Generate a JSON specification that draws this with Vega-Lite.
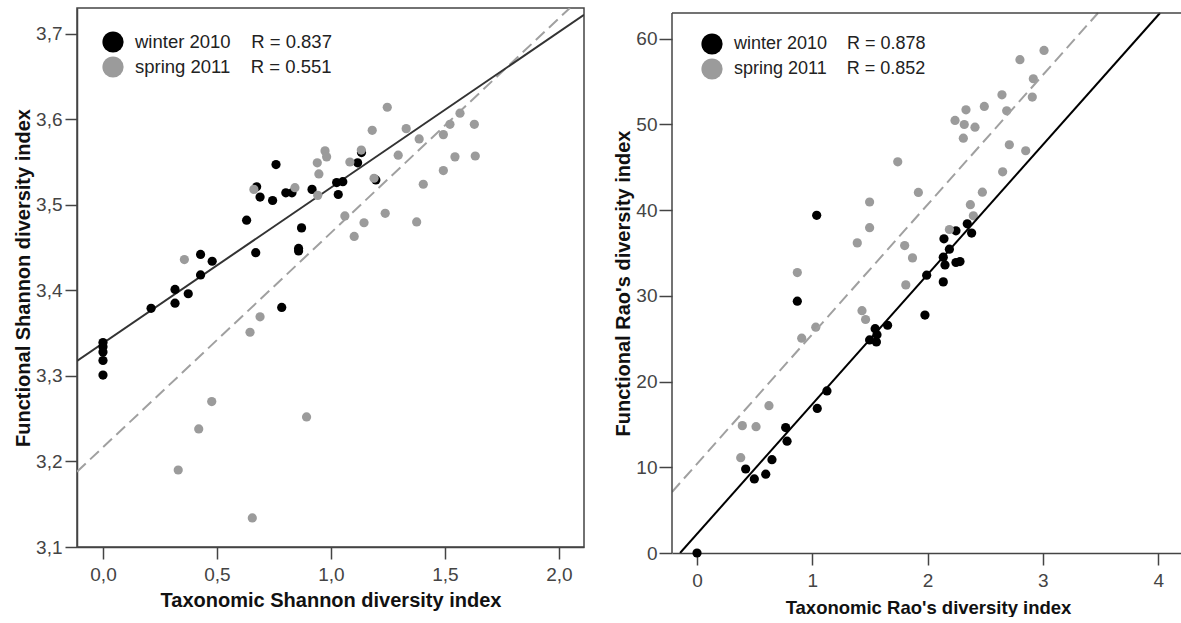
{
  "$schema": "https://vega.github.io/schema/vega-lite/v6.json",
  "background": "white",
  "padding": {"left": 12, "top": 7, "right": 0, "bottom": 0},
  "spacing": 28,
  "resolve": {"scale": {"color": "independent"}, "legend": {"color": "independent"}},
  "config": {
    "view": {"stroke": "#444444", "strokeWidth": 1.5},
    "axis": {
      "grid": false,
      "domainColor": "#444444", "domainWidth": 1.5,
      "tickColor": "#444444", "tickWidth": 1.5, "tickSize": 12,
      "labelFont": "Liberation Sans", "labelFontSize": 19, "labelColor": "#444444", "labelPadding": 4,
      "titleFont": "Liberation Sans", "titleFontSize": 20, "titleFontWeight": "bold", "titleColor": "#111111", "titlePadding": 6
    },
    "legend": {
      "title": null, "symbolType": "circle", "symbolSize": 450, "symbolStrokeWidth": 0, "symbolOpacity": 1,
      "labelFont": "Liberation Sans", "labelFontSize": 18.5, "labelColor": "#222222", "labelLimit": 400,
      "labelOffset": 11, "rowPadding": 3, "padding": 0, "orient": "none"
    }
  },
  "datasets": {
    "shannon": [
      {"season": "winter 2010", "tax": 0, "fun": 3.339},
      {"season": "winter 2010", "tax": 0, "fun": 3.334},
      {"season": "winter 2010", "tax": 0, "fun": 3.328},
      {"season": "winter 2010", "tax": 0, "fun": 3.318},
      {"season": "winter 2010", "tax": 0, "fun": 3.301},
      {"season": "winter 2010", "tax": 0.211, "fun": 3.379},
      {"season": "winter 2010", "tax": 0.316, "fun": 3.401},
      {"season": "winter 2010", "tax": 0.316, "fun": 3.385},
      {"season": "winter 2010", "tax": 0.374, "fun": 3.396},
      {"season": "winter 2010", "tax": 0.428, "fun": 3.442},
      {"season": "winter 2010", "tax": 0.479, "fun": 3.434},
      {"season": "winter 2010", "tax": 0.428, "fun": 3.418},
      {"season": "winter 2010", "tax": 0.630, "fun": 3.482},
      {"season": "winter 2010", "tax": 0.670, "fun": 3.444},
      {"season": "winter 2010", "tax": 0.674, "fun": 3.521},
      {"season": "winter 2010", "tax": 0.689, "fun": 3.509},
      {"season": "winter 2010", "tax": 0.759, "fun": 3.547},
      {"season": "winter 2010", "tax": 0.744, "fun": 3.505},
      {"season": "winter 2010", "tax": 0.802, "fun": 3.514},
      {"season": "winter 2010", "tax": 0.829, "fun": 3.514},
      {"season": "winter 2010", "tax": 0.917, "fun": 3.518},
      {"season": "winter 2010", "tax": 1.025, "fun": 3.526},
      {"season": "winter 2010", "tax": 1.052, "fun": 3.527},
      {"season": "winter 2010", "tax": 1.032, "fun": 3.512},
      {"season": "winter 2010", "tax": 1.117, "fun": 3.549},
      {"season": "winter 2010", "tax": 1.134, "fun": 3.561},
      {"season": "winter 2010", "tax": 1.197, "fun": 3.529},
      {"season": "winter 2010", "tax": 0.871, "fun": 3.473},
      {"season": "winter 2010", "tax": 0.858, "fun": 3.449},
      {"season": "winter 2010", "tax": 0.858, "fun": 3.446},
      {"season": "winter 2010", "tax": 0.784, "fun": 3.380},
      {"season": "spring 2011", "tax": 0.357, "fun": 3.436},
      {"season": "spring 2011", "tax": 0.330, "fun": 3.190},
      {"season": "spring 2011", "tax": 0.420, "fun": 3.238},
      {"season": "spring 2011", "tax": 0.477, "fun": 3.270},
      {"season": "spring 2011", "tax": 0.655, "fun": 3.134},
      {"season": "spring 2011", "tax": 0.645, "fun": 3.351},
      {"season": "spring 2011", "tax": 0.689, "fun": 3.369},
      {"season": "spring 2011", "tax": 0.662, "fun": 3.518},
      {"season": "spring 2011", "tax": 0.842, "fun": 3.520},
      {"season": "spring 2011", "tax": 0.893, "fun": 3.252},
      {"season": "spring 2011", "tax": 0.940, "fun": 3.549},
      {"season": "spring 2011", "tax": 0.947, "fun": 3.536},
      {"season": "spring 2011", "tax": 0.942, "fun": 3.511},
      {"season": "spring 2011", "tax": 0.974, "fun": 3.563},
      {"season": "spring 2011", "tax": 0.981, "fun": 3.556},
      {"season": "spring 2011", "tax": 1.061, "fun": 3.487},
      {"season": "spring 2011", "tax": 1.083, "fun": 3.550},
      {"season": "spring 2011", "tax": 1.102, "fun": 3.463},
      {"season": "spring 2011", "tax": 1.133, "fun": 3.564},
      {"season": "spring 2011", "tax": 1.145, "fun": 3.479},
      {"season": "spring 2011", "tax": 1.181, "fun": 3.587},
      {"season": "spring 2011", "tax": 1.189, "fun": 3.531},
      {"season": "spring 2011", "tax": 1.238, "fun": 3.490},
      {"season": "spring 2011", "tax": 1.247, "fun": 3.614},
      {"season": "spring 2011", "tax": 1.295, "fun": 3.558},
      {"season": "spring 2011", "tax": 1.330, "fun": 3.589},
      {"season": "spring 2011", "tax": 1.376, "fun": 3.480},
      {"season": "spring 2011", "tax": 1.387, "fun": 3.577},
      {"season": "spring 2011", "tax": 1.405, "fun": 3.524},
      {"season": "spring 2011", "tax": 1.493, "fun": 3.582},
      {"season": "spring 2011", "tax": 1.493, "fun": 3.540},
      {"season": "spring 2011", "tax": 1.522, "fun": 3.594},
      {"season": "spring 2011", "tax": 1.544, "fun": 3.556},
      {"season": "spring 2011", "tax": 1.566, "fun": 3.607},
      {"season": "spring 2011", "tax": 1.629, "fun": 3.594},
      {"season": "spring 2011", "tax": 1.633, "fun": 3.557}
    ],
    "shannonFit": [
      {"season": "winter 2010", "tax": -0.114, "fun": 3.3175},
      {"season": "winter 2010", "tax": 2.11, "fun": 3.722},
      {"season": "spring 2011", "tax": -0.114, "fun": 3.188},
      {"season": "spring 2011", "tax": 2.048, "fun": 3.73}
    ],
    "rao": [
      {"season": "winter 2010", "tax": 0, "fun": 0},
      {"season": "winter 2010", "tax": 0.422, "fun": 9.80},
      {"season": "winter 2010", "tax": 0.497, "fun": 8.64},
      {"season": "winter 2010", "tax": 0.596, "fun": 9.19},
      {"season": "winter 2010", "tax": 0.650, "fun": 10.89},
      {"season": "winter 2010", "tax": 0.769, "fun": 14.63},
      {"season": "winter 2010", "tax": 0.781, "fun": 13.04},
      {"season": "winter 2010", "tax": 0.870, "fun": 29.38},
      {"season": "winter 2010", "tax": 1.038, "fun": 39.40},
      {"season": "winter 2010", "tax": 1.043, "fun": 16.87},
      {"season": "winter 2010", "tax": 1.127, "fun": 18.91},
      {"season": "winter 2010", "tax": 1.497, "fun": 24.86},
      {"season": "winter 2010", "tax": 1.556, "fun": 24.62},
      {"season": "winter 2010", "tax": 1.545, "fun": 26.17},
      {"season": "winter 2010", "tax": 1.561, "fun": 25.45},
      {"season": "winter 2010", "tax": 1.653, "fun": 26.57},
      {"season": "winter 2010", "tax": 1.977, "fun": 27.76},
      {"season": "winter 2010", "tax": 1.992, "fun": 32.41},
      {"season": "winter 2010", "tax": 2.136, "fun": 31.63},
      {"season": "winter 2010", "tax": 2.136, "fun": 34.51},
      {"season": "winter 2010", "tax": 2.151, "fun": 33.61},
      {"season": "winter 2010", "tax": 2.189, "fun": 35.45},
      {"season": "winter 2010", "tax": 2.142, "fun": 36.65},
      {"season": "winter 2010", "tax": 2.246, "fun": 33.89},
      {"season": "winter 2010", "tax": 2.281, "fun": 34.00},
      {"season": "winter 2010", "tax": 2.246, "fun": 37.59},
      {"season": "winter 2010", "tax": 2.344, "fun": 38.40},
      {"season": "winter 2010", "tax": 2.382, "fun": 37.32},
      {"season": "spring 2011", "tax": 0.379, "fun": 11.12},
      {"season": "spring 2011", "tax": 0.393, "fun": 14.86},
      {"season": "spring 2011", "tax": 0.512, "fun": 14.74},
      {"season": "spring 2011", "tax": 0.624, "fun": 17.19},
      {"season": "spring 2011", "tax": 0.870, "fun": 32.72},
      {"season": "spring 2011", "tax": 0.908, "fun": 25.06},
      {"season": "spring 2011", "tax": 1.030, "fun": 26.35},
      {"season": "spring 2011", "tax": 1.390, "fun": 36.18},
      {"season": "spring 2011", "tax": 1.431, "fun": 28.27},
      {"season": "spring 2011", "tax": 1.462, "fun": 27.24},
      {"season": "spring 2011", "tax": 1.497, "fun": 40.95},
      {"season": "spring 2011", "tax": 1.497, "fun": 37.95},
      {"season": "spring 2011", "tax": 1.741, "fun": 45.64},
      {"season": "spring 2011", "tax": 1.801, "fun": 35.87},
      {"season": "spring 2011", "tax": 1.869, "fun": 34.43},
      {"season": "spring 2011", "tax": 1.811, "fun": 31.28},
      {"season": "spring 2011", "tax": 1.920, "fun": 42.06},
      {"season": "spring 2011", "tax": 2.189, "fun": 37.74},
      {"season": "spring 2011", "tax": 2.238, "fun": 50.46},
      {"season": "spring 2011", "tax": 2.310, "fun": 48.40},
      {"season": "spring 2011", "tax": 2.318, "fun": 49.99},
      {"season": "spring 2011", "tax": 2.333, "fun": 51.71},
      {"season": "spring 2011", "tax": 2.371, "fun": 40.64},
      {"season": "spring 2011", "tax": 2.397, "fun": 39.34},
      {"season": "spring 2011", "tax": 2.411, "fun": 49.68},
      {"season": "spring 2011", "tax": 2.475, "fun": 42.10},
      {"season": "spring 2011", "tax": 2.492, "fun": 52.10},
      {"season": "spring 2011", "tax": 2.645, "fun": 53.46},
      {"season": "spring 2011", "tax": 2.651, "fun": 44.47},
      {"season": "spring 2011", "tax": 2.686, "fun": 51.59},
      {"season": "spring 2011", "tax": 2.709, "fun": 47.63},
      {"season": "spring 2011", "tax": 2.801, "fun": 57.55},
      {"season": "spring 2011", "tax": 2.851, "fun": 46.93},
      {"season": "spring 2011", "tax": 2.908, "fun": 53.19},
      {"season": "spring 2011", "tax": 2.917, "fun": 55.33},
      {"season": "spring 2011", "tax": 3.010, "fun": 58.63}
    ],
    "raoFit": [
      {"season": "winter 2010", "tax": -0.147, "fun": 0},
      {"season": "winter 2010", "tax": 4.016, "fun": 63},
      {"season": "spring 2011", "tax": -0.217, "fun": 7.12},
      {"season": "spring 2011", "tax": 3.478, "fun": 63}
    ]
  },
  "hconcat": [
    {
      "width": 507,
      "height": 539,
      "encoding": {
        "x": {"field": "tax", "type": "quantitative",
          "scale": {"domain": [-0.114, 2.11], "nice": false, "zero": false},
          "axis": {"values": [0, 0.5, 1, 1.5, 2], "labelExpr": "replace(format(datum.value, '.1f'), '.', ',')", "title": "Taxonomic Shannon diversity index", "labelPadding": 6}},
        "y": {"field": "fun", "type": "quantitative",
          "scale": {"domain": [3.1, 3.73], "nice": false, "zero": false},
          "axis": {"values": [3.1, 3.2, 3.3, 3.4, 3.5, 3.6, 3.7], "labelExpr": "replace(format(datum.value, '.1f'), '.', ',')", "title": "Functional Shannon diversity index", "titlePadding": 2, "labelPadding": 3}}
      },
      "layer": [
        {
          "data": {"name": "shannonFit"},
          "transform": [{"filter": "datum.season === 'spring 2011'"}],
          "mark": {"type": "line", "clip": true, "color": "#a0a0a0", "strokeWidth": 2, "strokeDash": [12, 6]}
        },
        {
          "data": {"name": "shannonFit"},
          "transform": [{"filter": "datum.season === 'winter 2010'"}],
          "mark": {"type": "line", "clip": true, "color": "#333333", "strokeWidth": 2}
        },
        {
          "data": {"name": "shannon"},
          "mark": {"type": "circle", "size": 85, "opacity": 1},
          "encoding": {
            "color": {"field": "season", "type": "nominal",
              "scale": {"domain": ["winter 2010", "spring 2011"], "range": ["#000000", "#9b9b9b"]},
              "legend": {"legendX": 25, "legendY": 23,
                "labelExpr": "datum.label === 'winter 2010' ? 'winter 2010\u00a0\u00a0\u00a0\u00a0R = 0.837' : 'spring 2011\u00a0\u00a0\u00a0\u00a0R = 0.551'"}}
          }
        }
      ]
    },
    {
      "width": 512,
      "height": 545,
      "view": {"stroke": null},
      "layer": [
        {
          "data": {"name": "rao"},
          "mark": {"type": "circle", "size": 85, "opacity": 1},
          "encoding": {
            "x": {"field": "tax", "type": "quantitative",
              "scale": {"domain": [-0.217, 4.224], "nice": false, "zero": false},
              "axis": {"values": [0, 1, 2, 3, 4], "format": "d", "title": "Taxonomic Rao's diversity index", "titleFontSize": 18.5, "labelPadding": 6, "titlePadding": 8}},
            "y": {"field": "fun", "type": "quantitative",
              "scale": {"domain": [0, 63.583], "nice": false, "zero": false},
              "axis": {"values": [0, 10, 20, 30, 40, 50, 60], "format": "d", "title": "Functional Rao's diversity index", "tickSize": 13, "titlePadding": 2, "labelPadding": 2, "domain": false, "titleY": 275}},
            "color": {"field": "season", "type": "nominal",
              "scale": {"domain": ["winter 2010", "spring 2011"], "range": ["#000000", "#9b9b9b"]},
              "legend": {"legendX": 29, "legendY": 25, "labelFontSize": 18,
                "labelExpr": "datum.label === 'winter 2010' ? 'winter 2010\u00a0\u00a0\u00a0\u00a0R = 0.878' : 'spring 2011\u00a0\u00a0\u00a0\u00a0R = 0.852'"}}
          }
        },
        {
          "data": {"name": "raoFit"},
          "transform": [{"filter": "datum.season === 'spring 2011'"}],
          "mark": {"type": "line", "clip": true, "color": "#a0a0a0", "strokeWidth": 2, "strokeDash": [12, 6]},
          "encoding": {"x": {"field": "tax", "type": "quantitative"}, "y": {"field": "fun", "type": "quantitative"}}
        },
        {
          "data": {"name": "raoFit"},
          "transform": [{"filter": "datum.season === 'winter 2010'"}],
          "mark": {"type": "line", "clip": true, "color": "#000000", "strokeWidth": 2},
          "encoding": {"x": {"field": "tax", "type": "quantitative"}, "y": {"field": "fun", "type": "quantitative"}}
        },
        {
          "data": {"values": [{"frame": "top"}]},
          "mark": {"type": "rule", "stroke": "#444444", "strokeWidth": 1.5},
          "encoding": {"x": {"datum": -0.217}, "x2": {"datum": 4.224}, "y": {"datum": 63}}
        },
        {
          "data": {"values": [{"frame": "left"}]},
          "mark": {"type": "rule", "stroke": "#444444", "strokeWidth": 1.5},
          "encoding": {"x": {"datum": -0.217}, "y": {"datum": 0}, "y2": {"datum": 63}}
        }
      ]
    }
  ]
}
